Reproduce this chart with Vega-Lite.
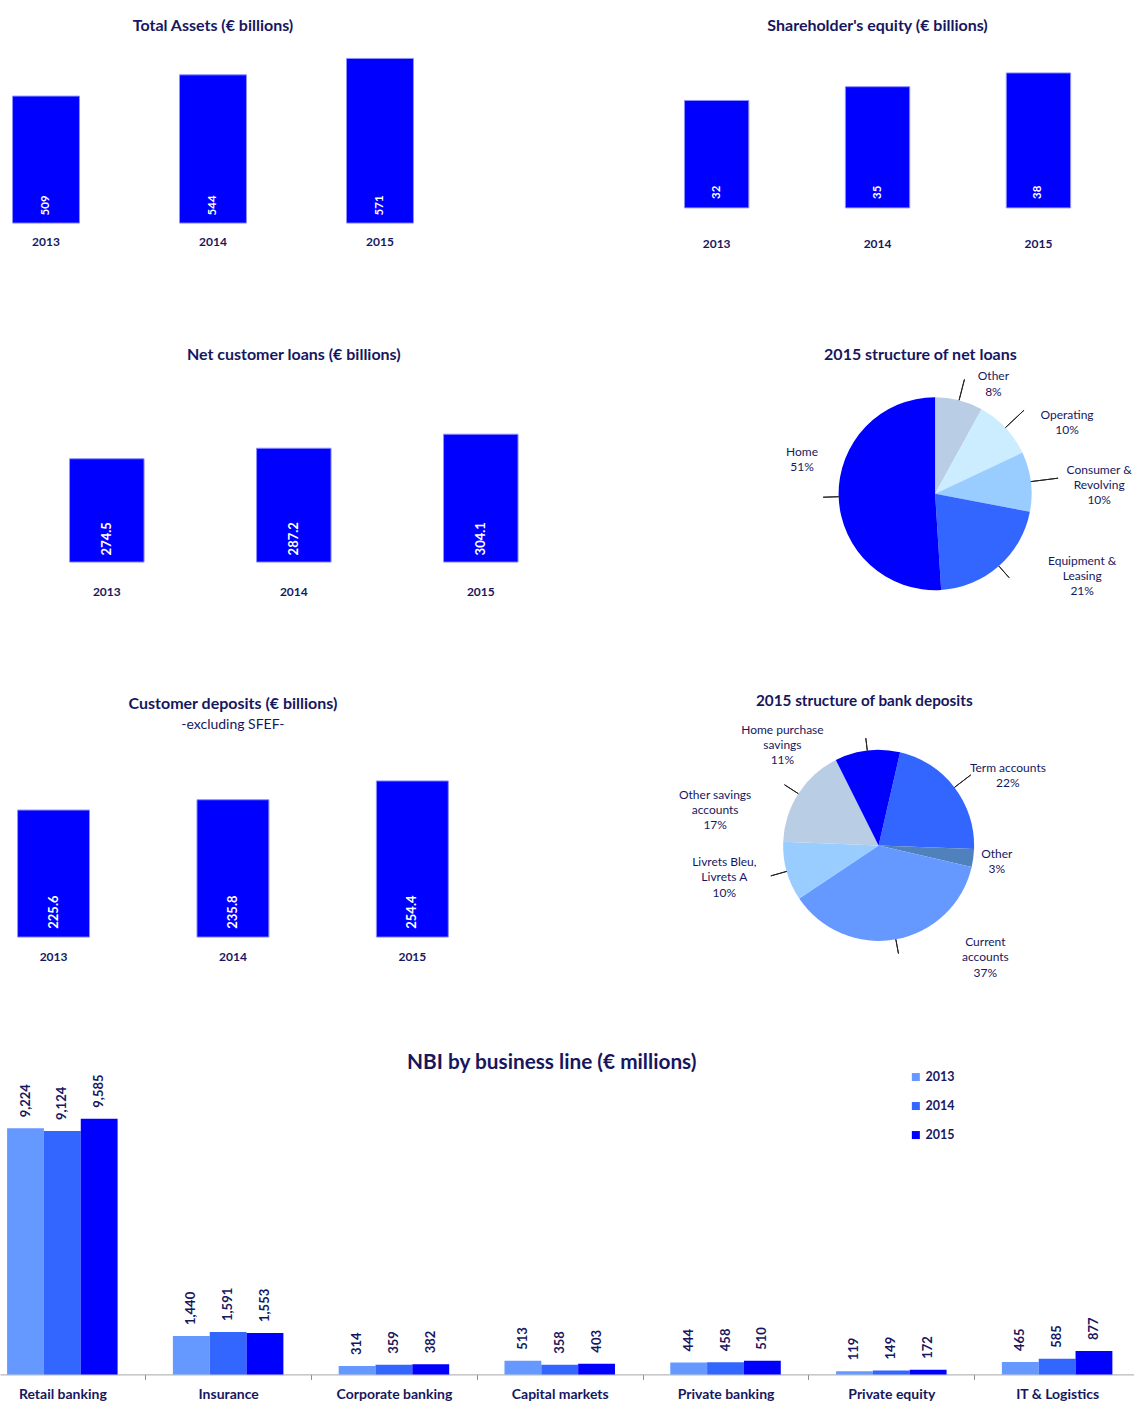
{
  "$schema": "https://vega.github.io/schema/vega-lite/v6.json",
  "padding": {"left": 0, "top": 17.8, "right": 0, "bottom": 0},
  "background": "white",
  "config": {
    "font": "Lato",
    "view": {"stroke": null},
    "title": {"font": "Lato", "color": "#171760", "fontWeight": "bold", "baseline": "alphabetic", "subtitleFont": "Lato", "subtitleColor": "#171760", "subtitleFontSize": 14, "subtitlePadding": 5.5},
    "axis": {"labelFont": "Lato"},
    "legend": {"labelFont": "Lato"},
    "text": {"font": "Lato"}
  },
  "bounds": "flush",
  "spacing": 347,
  "resolve": {"scale": {"x": "independent", "y": "independent", "color": "independent", "theta": "independent", "xOffset": "independent"}},
  "vconcat": [
    {
      "hconcat": [
        {
          "width": 426, "height": 182.3,
          "title": {"text": "Total Assets (€ billions)", "fontSize": 16, "offset": 6.6},
          "data": {"values": [{"year": "2013", "value": 509}, {"year": "2014", "value": 544}, {"year": "2015", "value": 571}]},
          "encoding": {
            "x": {"field": "year", "type": "nominal", "scale": {"paddingInner": 0.599, "paddingOuter": 0.075}, "axis": {"title": null, "domain": false, "ticks": false, "labelAngle": 0, "labelFontSize": 12, "labelFontWeight": "bold", "labelColor": "#171760", "labelPadding": 13.7}}
          },
          "layer": [
            {"mark": {"type": "bar", "color": "#0000FF", "stroke": "#8f8fff", "strokeWidth": 1},
             "encoding": {"y": {"field": "value", "type": "quantitative", "scale": {"domain": [300, 600], "zero": false}, "axis": null}, "y2": {"datum": 300}}},
            {"mark": {"type": "text", "angle": 270, "align": "left", "baseline": "middle", "dx": 7.7, "fontSize": 11.5, "fontWeight": "bold", "color": "white"},
             "encoding": {"y": {"datum": 300, "type": "quantitative"}, "text": {"field": "value", "type": "quantitative"}}}
          ]
        },
        {
          "width": 410.3, "height": 183.6,
          "title": {"text": "Shareholder's equity (€ billions)", "fontSize": 16, "offset": 6.6},
          "data": {"values": [{"year": "2013", "value": 32}, {"year": "2014", "value": 35}, {"year": "2015", "value": 38}]},
          "encoding": {
            "x": {"field": "year", "type": "nominal", "scale": {"paddingInner": 0.6, "paddingOuter": 0.075}, "axis": {"title": null, "domain": false, "ticks": false, "labelAngle": 0, "labelFontSize": 12, "labelFontWeight": "bold", "labelColor": "#171760", "labelPadding": 13.7}}
          },
          "layer": [
            {"mark": {"type": "bar", "color": "#0000FF", "stroke": "#8f8fff", "strokeWidth": 1},
             "encoding": {"y": {"field": "value", "type": "quantitative", "scale": {"domain": [8.6, 42.6], "zero": false}, "axis": null}, "y2": {"datum": 8.6}}},
            {"mark": {"type": "text", "angle": 270, "align": "left", "baseline": "middle", "dx": 9, "fontSize": 11.5, "fontWeight": "bold", "color": "white"},
             "encoding": {"y": {"datum": 8.6, "type": "quantitative"}, "text": {"field": "value", "type": "quantitative"}}}
          ]
        }
      ],
      "spacing": 246.4,
      "bounds": "flush",
      "resolve": {"scale": {"x": "independent", "y": "independent", "color": "independent", "theta": "independent"}}
    },
    {
      "hconcat": [
        {
          "width": 587.6, "height": 182.6,
          "title": {"text": "Net customer loans (€ billions)", "fontSize": 16, "offset": 24.6},
          "data": {"values": [{"year": "2013", "value": 274.5}, {"year": "2014", "value": 287.2}, {"year": "2015", "value": 304.1}]},
          "encoding": {
            "x": {"field": "year", "type": "nominal", "scale": {"paddingInner": 0.6016, "paddingOuter": 0.372}, "axis": {"title": null, "domain": false, "ticks": false, "labelAngle": 0, "labelFontSize": 12, "labelFontWeight": "bold", "labelColor": "#171760", "labelPadding": 15.7}}
          },
          "layer": [
            {"mark": {"type": "bar", "color": "#0000FF", "stroke": "#8f8fff", "strokeWidth": 1},
             "encoding": {"y": {"field": "value", "type": "quantitative", "scale": {"domain": [150, 346.8], "zero": false}, "axis": null}, "y2": {"datum": 150}}},
            {"mark": {"type": "text", "angle": 270, "align": "left", "baseline": "middle", "dx": 6.7, "fontSize": 13, "fontWeight": "bold", "color": "white"},
             "encoding": {"y": {"datum": 150, "type": "quantitative"}, "text": {"field": "value", "type": "quantitative", "format": ".1f"}}}
          ]
        },
        {
          "width": 211.8, "height": 211.8,
          "title": {"text": "2015 structure of net loans", "fontSize": 16, "offset": 7.2, "dx": -14.7},
          "data": {"values": [
            {"cat": "Other", "value": 8, "label": "Other\n8%"},
            {"cat": "Operating", "value": 10, "label": "Operating\n10%"},
            {"cat": "Consumer & Revolving", "value": 10, "label": "Consumer &\nRevolving\n10%"},
            {"cat": "Equipment & Leasing", "value": 21, "label": "Equipment &\nLeasing\n21%"},
            {"cat": "Home", "value": 51, "label": "Home\n51%"}
          ]},
          "transform": [
            {"window": [{"op": "row_number", "as": "ord"}]},
            {"stack": "value", "groupby": [], "sort": [{"field": "ord", "order": "ascending"}], "as": ["v0", "v1"]}
          ],
          "layer": [
            {"mark": {"type": "arc", "outerRadius": 96.5},
             "encoding": {
               "theta": {"field": "v0", "type": "quantitative", "scale": {"domain": [0, 100], "nice": false}},
               "theta2": {"field": "v1"},
               "color": {"field": "cat", "type": "nominal", "scale": {"domain": ["Other", "Operating", "Consumer & Revolving", "Equipment & Leasing", "Home"], "range": ["#B9CDE5", "#CCECFF", "#99CCFF", "#3366FF", "#0000FF"]}, "legend": null}}},
            {"transform": [{"filter": "datum.cat === 'Other'"}, {"fold": ["v0", "v1"], "as": ["edge", "t"]}, {"aggregate": [{"op": "mean", "field": "t", "as": "mid"}], "groupby": ["label"]}],
             "encoding": {"theta": {"field": "mid", "type": "quantitative"}},
             "layer": [
               {"mark": {"type": "arc", "radius2": 96.5, "radius": 118, "fill": "transparent", "stroke": "#222222", "strokeWidth": 1}, "encoding": {"theta2": {"field": "mid"}}},
               {"mark": {"type": "text", "radius": 130, "dx": 26, "dy": 3.6, "lineBreak": "\n", "lineHeight": 15.3, "fontSize": 12, "color": "#171760", "align": "center", "baseline": "top"}, "encoding": {"text": {"field": "label", "type": "nominal"}}}
             ]},
            {"transform": [{"filter": "datum.cat === 'Operating'"}, {"fold": ["v0", "v1"], "as": ["edge", "t"]}, {"aggregate": [{"op": "mean", "field": "t", "as": "mid"}], "groupby": ["label"]}],
             "encoding": {"theta": {"field": "mid", "type": "quantitative"}},
             "layer": [
               {"mark": {"type": "arc", "radius2": 96.5, "radius": 122, "fill": "transparent", "stroke": "#222222", "strokeWidth": 1}, "encoding": {"theta2": {"field": "mid"}}},
               {"mark": {"type": "text", "radius": 130, "dx": 37.2, "dy": 5, "lineBreak": "\n", "lineHeight": 15.3, "fontSize": 12, "color": "#171760", "align": "center", "baseline": "top"}, "encoding": {"text": {"field": "label", "type": "nominal"}}}
             ]},
            {"transform": [{"filter": "datum.cat === 'Consumer & Revolving'"}, {"fold": ["v0", "v1"], "as": ["edge", "t"]}, {"aggregate": [{"op": "mean", "field": "t", "as": "mid"}], "groupby": ["label"]}],
             "encoding": {"theta": {"field": "mid", "type": "quantitative"}},
             "layer": [
               {"mark": {"type": "arc", "radius2": 96.5, "radius": 124, "fill": "transparent", "stroke": "#222222", "strokeWidth": 1}, "encoding": {"theta2": {"field": "mid"}}},
               {"mark": {"type": "text", "radius": 130, "dx": 35.1, "dy": -12.7, "lineBreak": "\n", "lineHeight": 15.3, "fontSize": 12, "color": "#171760", "align": "center", "baseline": "top"}, "encoding": {"text": {"field": "label", "type": "nominal"}}}
             ]},
            {"transform": [{"filter": "datum.cat === 'Equipment & Leasing'"}, {"fold": ["v0", "v1"], "as": ["edge", "t"]}, {"aggregate": [{"op": "mean", "field": "t", "as": "mid"}], "groupby": ["label"]}],
             "encoding": {"theta": {"field": "mid", "type": "quantitative"}},
             "layer": [
               {"mark": {"type": "arc", "radius2": 96.5, "radius": 112, "fill": "transparent", "stroke": "#222222", "strokeWidth": 1}, "encoding": {"theta2": {"field": "mid"}}},
               {"mark": {"type": "text", "radius": 130, "dx": 61.1, "dy": -35.5, "lineBreak": "\n", "lineHeight": 15.3, "fontSize": 12, "color": "#171760", "align": "center", "baseline": "top"}, "encoding": {"text": {"field": "label", "type": "nominal"}}}
             ]},
            {"transform": [{"filter": "datum.cat === 'Home'"}, {"fold": ["v0", "v1"], "as": ["edge", "t"]}, {"aggregate": [{"op": "mean", "field": "t", "as": "mid"}], "groupby": ["label"]}],
             "encoding": {"theta": {"field": "mid", "type": "quantitative"}},
             "layer": [
               {"mark": {"type": "arc", "radius2": 96.5, "radius": 112, "fill": "transparent", "stroke": "#222222", "strokeWidth": 1}, "encoding": {"theta2": {"field": "mid"}}},
               {"mark": {"type": "text", "radius": 130, "dx": -3.1, "dy": -50.8, "lineBreak": "\n", "lineHeight": 15.3, "fontSize": 12, "color": "#171760", "align": "center", "baseline": "top"}, "encoding": {"text": {"field": "label", "type": "nominal"}}}
             ]}
          ]
        }
      ],
      "spacing": 241.2,
      "bounds": "flush",
      "resolve": {"scale": {"x": "independent", "y": "independent", "color": "independent", "theta": "independent"}}
    },
    {
      "hconcat": [
        {
          "width": 465.9, "height": 202.3,
          "title": {"text": "Customer deposits (€ billions)", "subtitle": "-excluding SFEF-", "fontSize": 16, "offset": 2.9},
          "data": {"values": [{"year": "2013", "value": 225.6}, {"year": "2014", "value": 235.8}, {"year": "2015", "value": 254.4}]},
          "encoding": {
            "x": {"field": "year", "type": "nominal", "scale": {"paddingInner": 0.599, "paddingOuter": 0.098}, "axis": {"title": null, "domain": false, "ticks": false, "labelAngle": 0, "labelFontSize": 12, "labelFontWeight": "bold", "labelColor": "#171760", "labelPadding": 14.3}}
          },
          "layer": [
            {"mark": {"type": "bar", "color": "#0000FF", "stroke": "#8f8fff", "strokeWidth": 1},
             "encoding": {"y": {"field": "value", "type": "quantitative", "scale": {"domain": [100, 297.2], "zero": false}, "axis": null}, "y2": {"datum": 100}}},
            {"mark": {"type": "text", "angle": 270, "align": "left", "baseline": "middle", "dx": 8.4, "fontSize": 13, "fontWeight": "bold", "color": "white"},
             "encoding": {"y": {"datum": 100, "type": "quantitative"}, "text": {"field": "value", "type": "quantitative", "format": ".1f"}}}
          ]
        },
        {
          "width": 221.2, "height": 221.2,
          "title": {"text": "2015 structure of bank deposits", "fontSize": 15.3, "offset": 14.5, "dx": -14.3},
          "data": {"values": [
            {"cat": "Term accounts", "value": 22, "label": "Term accounts\n22%"},
            {"cat": "Other", "value": 3, "label": "Other\n3%"},
            {"cat": "Current accounts", "value": 37, "label": "Current\naccounts\n37%"},
            {"cat": "Livrets Bleu, Livrets A", "value": 10, "label": "Livrets Bleu,\nLivrets A\n10%"},
            {"cat": "Other savings accounts", "value": 17, "label": "Other savings\naccounts\n17%"},
            {"cat": "Home purchase savings", "value": 11, "label": "Home purchase\nsavings\n11%"}
          ]},
          "transform": [
            {"window": [{"op": "row_number", "as": "ord"}]},
            {"stack": "value", "groupby": [], "sort": [{"field": "ord", "order": "ascending"}], "as": ["v0", "v1"]}
          ],
          "layer": [
            {"mark": {"type": "arc", "outerRadius": 95.5},
             "encoding": {
               "theta": {"field": "v0", "type": "quantitative", "scale": {"domain": [0, 100], "nice": false, "range": [0.2269, 6.5101]}},
               "theta2": {"field": "v1"},
               "color": {"field": "cat", "type": "nominal", "scale": {"domain": ["Term accounts", "Other", "Current accounts", "Livrets Bleu, Livrets A", "Other savings accounts", "Home purchase savings"], "range": ["#3366FF", "#4F81BD", "#6699FF", "#99CCFF", "#B9CDE5", "#0000FF"]}, "legend": null}}},
            {"transform": [{"filter": "datum.cat === 'Term accounts'"}, {"fold": ["v0", "v1"], "as": ["edge", "t"]}, {"aggregate": [{"op": "mean", "field": "t", "as": "mid"}], "groupby": ["label"]}],
             "encoding": {"theta": {"field": "mid", "type": "quantitative"}},
             "layer": [
               {"mark": {"type": "arc", "radius2": 95.5, "radius": 116, "fill": "transparent", "stroke": "#222222", "strokeWidth": 1}, "encoding": {"theta2": {"field": "mid"}}},
               {"mark": {"type": "text", "radius": 130, "dx": 26, "dy": -3.4, "lineBreak": "\n", "lineHeight": 15.3, "fontSize": 12, "color": "#171760", "align": "center", "baseline": "top"}, "encoding": {"text": {"field": "label", "type": "nominal"}}}
             ]},
            {"transform": [{"filter": "datum.cat === 'Other'"}, {"fold": ["v0", "v1"], "as": ["edge", "t"]}, {"aggregate": [{"op": "mean", "field": "t", "as": "mid"}], "groupby": ["label"]}],
             "encoding": {"theta": {"field": "mid", "type": "quantitative"}},
             "layer": [
               {"mark": {"type": "text", "radius": 130, "dx": -10.7, "dy": -13.6, "lineBreak": "\n", "lineHeight": 15.3, "fontSize": 12, "color": "#171760", "align": "center", "baseline": "top"}, "encoding": {"text": {"field": "label", "type": "nominal"}}}
             ]},
            {"transform": [{"filter": "datum.cat === 'Current accounts'"}, {"fold": ["v0", "v1"], "as": ["edge", "t"]}, {"aggregate": [{"op": "mean", "field": "t", "as": "mid"}], "groupby": ["label"]}],
             "encoding": {"theta": {"field": "mid", "type": "quantitative"}},
             "layer": [
               {"mark": {"type": "arc", "radius2": 95.5, "radius": 110, "fill": "transparent", "stroke": "#222222", "strokeWidth": 1}, "encoding": {"theta2": {"field": "mid"}}},
               {"mark": {"type": "text", "radius": 130, "dx": 83.3, "dy": -36.3, "lineBreak": "\n", "lineHeight": 15.3, "fontSize": 12, "color": "#171760", "align": "center", "baseline": "top"}, "encoding": {"text": {"field": "label", "type": "nominal"}}}
             ]},
            {"transform": [{"filter": "datum.cat === 'Livrets Bleu, Livrets A'"}, {"fold": ["v0", "v1"], "as": ["edge", "t"]}, {"aggregate": [{"op": "mean", "field": "t", "as": "mid"}], "groupby": ["label"]}],
             "encoding": {"theta": {"field": "mid", "type": "quantitative"}},
             "layer": [
               {"mark": {"type": "arc", "radius2": 95.5, "radius": 112, "fill": "transparent", "stroke": "#222222", "strokeWidth": 1}, "encoding": {"theta2": {"field": "mid"}}},
               {"mark": {"type": "text", "radius": 130, "dx": -29.2, "dy": -23.8, "lineBreak": "\n", "lineHeight": 15.3, "fontSize": 12, "color": "#171760", "align": "center", "baseline": "top"}, "encoding": {"text": {"field": "label", "type": "nominal"}}}
             ]},
            {"transform": [{"filter": "datum.cat === 'Other savings accounts'"}, {"fold": ["v0", "v1"], "as": ["edge", "t"]}, {"aggregate": [{"op": "mean", "field": "t", "as": "mid"}], "groupby": ["label"]}],
             "encoding": {"theta": {"field": "mid", "type": "quantitative"}},
             "layer": [
               {"mark": {"type": "arc", "radius2": 95.5, "radius": 112, "fill": "transparent", "stroke": "#222222", "strokeWidth": 1}, "encoding": {"theta2": {"field": "mid"}}},
               {"mark": {"type": "text", "radius": 130, "dx": -54.2, "dy": 14.7, "lineBreak": "\n", "lineHeight": 15.3, "fontSize": 12, "color": "#171760", "align": "center", "baseline": "top"}, "encoding": {"text": {"field": "label", "type": "nominal"}}}
             ]},
            {"transform": [{"filter": "datum.cat === 'Home purchase savings'"}, {"fold": ["v0", "v1"], "as": ["edge", "t"]}, {"aggregate": [{"op": "mean", "field": "t", "as": "mid"}], "groupby": ["label"]}],
             "encoding": {"theta": {"field": "mid", "type": "quantitative"}},
             "layer": [
               {"mark": {"type": "arc", "radius2": 95.5, "radius": 108, "fill": "transparent", "stroke": "#222222", "strokeWidth": 1}, "encoding": {"theta2": {"field": "mid"}}},
               {"mark": {"type": "text", "radius": 130, "dx": -80.8, "dy": 8.4, "lineBreak": "\n", "lineHeight": 15.3, "fontSize": 12, "color": "#171760", "align": "center", "baseline": "top"}, "encoding": {"text": {"field": "label", "type": "nominal"}}}
             ]}
          ]
        }
      ],
      "spacing": 302,
      "bounds": "flush",
      "resolve": {"scale": {"x": "independent", "y": "independent", "color": "independent", "theta": "independent"}}
    },
    {
      "width": 1134, "height": 292.6,
      "title": {"text": "NBI by business line (€ millions)", "fontSize": 20.8, "offset": -2.6, "dx": -15.2},
      "data": {"values": [
        {"line": "Retail banking", "year": "2013", "value": 9224},
        {"line": "Retail banking", "year": "2014", "value": 9124},
        {"line": "Retail banking", "year": "2015", "value": 9585},
        {"line": "Insurance", "year": "2013", "value": 1440},
        {"line": "Insurance", "year": "2014", "value": 1591},
        {"line": "Insurance", "year": "2015", "value": 1553},
        {"line": "Corporate banking", "year": "2013", "value": 314},
        {"line": "Corporate banking", "year": "2014", "value": 359},
        {"line": "Corporate banking", "year": "2015", "value": 382},
        {"line": "Capital markets", "year": "2013", "value": 513},
        {"line": "Capital markets", "year": "2014", "value": 358},
        {"line": "Capital markets", "year": "2015", "value": 403},
        {"line": "Private banking", "year": "2013", "value": 444},
        {"line": "Private banking", "year": "2014", "value": 458},
        {"line": "Private banking", "year": "2015", "value": 510},
        {"line": "Private equity", "year": "2013", "value": 119},
        {"line": "Private equity", "year": "2014", "value": 149},
        {"line": "Private equity", "year": "2015", "value": 172},
        {"line": "IT & Logistics", "year": "2013", "value": 465},
        {"line": "IT & Logistics", "year": "2014", "value": 585},
        {"line": "IT & Logistics", "year": "2015", "value": 877}
      ]},
      "encoding": {
        "x": {"field": "line", "type": "nominal", "sort": null, "scale": {"paddingInner": 0.3335, "paddingOuter": 0.0866, "align": 0.247},
              "axis": {"title": null, "labelAngle": 0, "domainColor": "#a6a6a6", "domainWidth": 1, "tickColor": "#8c8c8c", "tickSize": 5, "tickOffset": 82.9, "labelOffset": -82.9, "labelFontSize": 14, "labelFontWeight": "bold", "labelColor": "#171760", "labelPadding": 7.8, "labelLimit": 300}},
        "xOffset": {"field": "year", "type": "nominal", "scale": {"paddingInner": 0, "paddingOuter": 0}},
        "y": {"field": "value", "type": "quantitative", "scale": {"domain": [0, 10967]}, "axis": null}
      },
      "layer": [
        {"mark": {"type": "bar"},
         "encoding": {"color": {"field": "year", "type": "nominal", "scale": {"domain": ["2013", "2014", "2015"], "range": ["#6699FF", "#3366FF", "#0000FF"]},
           "legend": {"orient": "none", "legendX": 909.6, "legendY": -11, "padding": 0, "title": null, "symbolType": "square", "symbolSize": 64, "symbolStrokeWidth": 0, "labelFontSize": 12.5, "labelFontWeight": "bold", "labelColor": "#171760", "rowPadding": 16, "labelOffset": 3.4}}}},
        {"mark": {"type": "text", "angle": 270, "align": "left", "baseline": "middle", "dx": 11, "fontSize": 13, "fontWeight": "bold", "color": "#171760"},
         "encoding": {"text": {"field": "value", "type": "quantitative", "format": ","}}}
      ]
    }
  ]
}
